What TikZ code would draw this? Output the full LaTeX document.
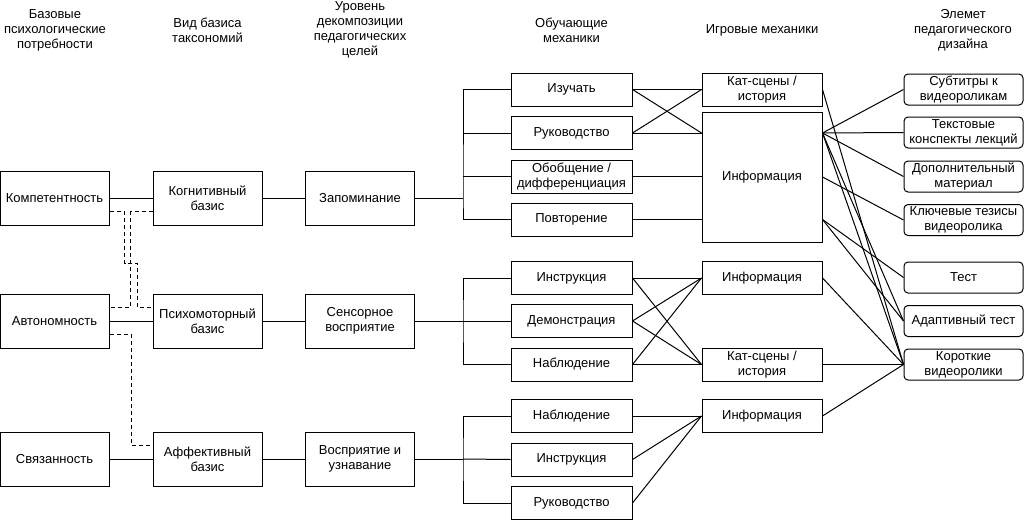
\documentclass[tikz,border=0pt]{standalone}
\usepackage{fontspec}
\setmainfont{Liberation Sans}
\usetikzlibrary{calc}

\tikzset{every picture/.style={line width=0.75pt}}
\tikzset{
  proc/.style={draw, align=center, inner sep=0.75pt, font=\fontsize{9.75}{11.25}\selectfont},
  needbox/.style={proc, minimum width=81.75pt, minimum height=40.5pt},
  mechbox/.style={proc, minimum width=90.75pt, minimum height=24.75pt},
  gamebox/.style={proc, minimum width=90pt, minimum height=24.75pt},
  elembox/.style={proc, rounded corners=3pt, minimum width=89.25pt, minimum height=23.25pt},
  head/.style={align=center, inner sep=0.75pt, font=\fontsize{9.75}{11.25}\selectfont},
  dashlink/.style={dash pattern=on 3pt off 2.25pt}
}

\begin{document}
\begin{tikzpicture}[x=0.75pt,y=0.75pt,yscale=-1,xscale=1]
\useasboundingbox (0,0) rectangle (1024,521);

% Text Node
\node[head] (h1) at (55,30) {Базовые\\психологические\\потребности};
% Text Node
\node[head] (h2) at (207.5,30.5) {Вид базиса\\таксономий};
% Text Node
\node[head] (h3) at (360,30) {Уровень\\декомпозиции\\педагогических\\целей};
% Text Node
\node[head] (h4) at (571.5,30.5) {Обучающие\\механики};
% Text Node
\node[head] (h5) at (762,30) {Игровые механики};
% Text Node
\node[head] (h6) at (963,30) {Элемет\\педагогического\\дизайна};

%Flowchart: Process - needs
\node[needbox] (komp) at (54.5,198) {Компетентность};
\node[needbox] (avt) at (54.5,321) {Автономность};
\node[needbox] (svyaz) at (54.5,459) {Связанность};
%Flowchart: Process - taxonomy basis
\node[needbox] (kogn) at (207.5,198) {Когнитивный\\базис};
\node[needbox] (psych) at (207.5,321) {Психомоторный\\базис};
\node[needbox] (affekt) at (207.5,459) {Аффективный\\базис};
%Flowchart: Process - goals
\node[needbox] (zap) at (360,198) {Запоминание};
\node[needbox] (sens) at (360,321) {Сенсорное\\восприятие};
\node[needbox] (vospr) at (360,459) {Восприятие и\\узнавание};

%Flowchart: Process - learning mechanics
\node[mechbox] (izuch) at (571.5,89.5) {Изучать};
\node[mechbox] (ruk1) at (571.5,133) {Руководство};
\node[mechbox] (obob) at (571.5,176.5) {Обобщение /\\дифференциация};
\node[mechbox] (povt) at (571.5,219.5) {Повторение};
\node[mechbox] (instr2) at (571.5,278) {Инструкция};
\node[mechbox] (demo2) at (571.5,321) {Демонстрация};
\node[mechbox] (nabl2) at (571.5,364.5) {Наблюдение};
\node[mechbox] (nabl3) at (571.5,416) {Наблюдение};
\node[mechbox] (instr3) at (571.5,459.5) {Инструкция};
\node[mechbox] (ruk3) at (571.5,503) {Руководство};

%Flowchart: Process - game mechanics
\node[gamebox] (kat1) at (762,89.5) {Кат-сцены /\\история};
\node[gamebox, minimum height=97.5pt] (info1) at (762,177) {Информация};
\node[gamebox] (info2) at (762,278) {Информация};
\node[gamebox] (kat2) at (762,364.5) {Кат-сцены /\\история};
\node[gamebox] (info3) at (762,416) {Информация};

%Rounded Rect - design elements
\node[elembox] (subt) at (963.5,89.5) {Субтитры к\\видеороликам};
\node[elembox] (tekst) at (963.5,132.5) {Текстовые\\конспекты лекций};
\node[elembox] (dop) at (963.5,176.5) {Дополнительный\\материал};
\node[elembox] (klyuch) at (963.5,220) {Ключевые тезисы\\видеоролика};
\node[elembox] (test) at (963.5,277.5) {Тест};
\node[elembox] (adapt) at (963.5,321) {Адаптивный тест};
\node[elembox] (korot) at (963.5,364.5) {Короткие\\видеоролики};

%Straight Lines
\draw (komp) -- (kogn);
\draw (kogn) -- (zap);
\draw (avt) -- (psych);
\draw (psych) -- (sens);
\draw (svyaz) -- (affekt);
\draw (affekt) -- (vospr);

%Dashed Lines
\coordinate (k75) at ($(komp.north east)!0.75!(komp.south east)$);
\coordinate (g75) at ($(kogn.north west)!0.75!(kogn.south west)$);
\coordinate (a25) at ($(avt.north east)!0.25!(avt.south east)$);
\coordinate (a75) at ($(avt.north east)!0.75!(avt.south east)$);
\coordinate (p25) at ($(psych.north west)!0.25!(psych.south west)$);
\coordinate (f25) at ($(affekt.north west)!0.25!(affekt.south west)$);
\draw[dashlink] (k75) -- ++(15,0) -- ++(0,51.5) -- ++(13,0) |- (p25);
\draw[dashlink] (g75) -- ++(-22,0) |- (a25);
\draw[dashlink] (a75) -- ++(22,0) |- (f25);

%Tree Lines
\coordinate (t1) at (463,198);
\coordinate (t2) at (463,321);
\coordinate (t3) at (463,459);
\draw (zap.east) -- (t1);
\draw (izuch.west) -| (t1) |- (povt.west);
\draw (ruk1.west) -- (ruk1.west -| t1);
\draw (obob.west) -- (obob.west -| t1);
\draw (sens.east) -- (t2);
\draw (instr2.west) -| (t2) |- (nabl2.west);
\draw (demo2.west) -- (t2);
\draw (vospr.east) -- (t3);
\draw (nabl3.west) -| (t3) |- (ruk3.west);
\draw (instr3.west) -- (t3);

%Straight Lines - learning to game mechanics
\draw (izuch.east) -- (kat1.west);
\draw (izuch.east) -- (info1.west |- ruk1.east);
\draw (ruk1.east) -- (kat1.west);
\draw (ruk1.east) -- (info1.west |- ruk1.east);
\draw (obob.east) -- (info1.west |- obob.east);
\draw (povt.east) -- (info1.west |- povt.east);
\foreach \m in {instr2,demo2,nabl2} {
  \draw (\m.east) -- (info2.west);
  \draw (\m.east) -- (kat2.west);
}
\foreach \m in {nabl3,instr3,ruk3}
  \draw (\m.east) -- (info3.west);

%Straight Lines - design elements to game mechanics
\coordinate (r1) at (info1.east |- ruk1.east);
\coordinate (r3) at (info1.east |- povt.east);
\draw (subt.west) -- (r1);
\draw (tekst.west) -- (r1);
\draw (dop.west) -- (r1);
\draw (klyuch.west) -- (info1.east);
\draw (test.west) -- (r3);
\draw (adapt.west) -- (r3);
\draw (adapt.west) -- (r1);
\draw (korot.west) -- (kat1.east);
\draw (korot.west) -- (r1);
\draw (korot.west) -- (info2.east);
\draw (korot.west) -- (kat2.east);
\draw (korot.west) -- (info3.east);

\end{tikzpicture}
\end{document}
